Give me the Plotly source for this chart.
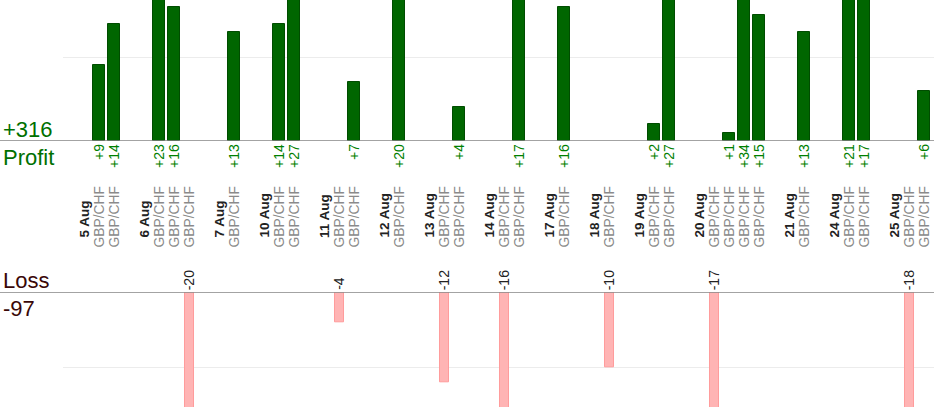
import plotly.graph_objects as go

# ---- data ----
days = ["5 Aug", "6 Aug", "7 Aug", "10 Aug", "11 Aug", "12 Aug", "13 Aug",
        "14 Aug", "17 Aug", "18 Aug", "19 Aug", "20 Aug", "21 Aug", "24 Aug", "25 Aug"]
day_results = [
    [9, 14],
    [23, 16, -20],
    [13],
    [14, 27],
    [-4, 7],
    [20],
    [-12, 4],
    [-16, 17],
    [16],
    [-10],
    [2, 27],
    [-17, 1, 34, 15],
    [13],
    [21, 17],
    [-18, 6],
]
pair_name = "GBP/CHF"
profit_title = "Profit"
loss_title = "Loss"

# ---- slot positions: date slot, trades, empty slot ----
date_x, trade_x, trade_v = [], [], []
slot = 0
for d, res in zip(days, day_results):
    date_x.append(slot)
    slot += 1
    for v in res:
        trade_x.append(slot)
        trade_v.append(v)
        slot += 1
    slot += 1

profit_x = [x for x, v in zip(trade_x, trade_v) if v > 0]
profit_v = [v for v in trade_v if v > 0]
loss_x = [x for x, v in zip(trade_x, trade_v) if v < 0]
loss_v = [v for v in trade_v if v < 0]
total_profit = sum(profit_v)
total_loss = sum(loss_v)

W, H = 934, 420
FONT = "Liberation Sans, Arial, sans-serif"

fig = go.Figure()
fig.add_trace(go.Bar(x=profit_x, y=profit_v, xaxis="x", yaxis="y", width=0.86,
                     marker=dict(color="#006600", line=dict(color="#004c00", width=1)),
                     hoverinfo="skip"))
fig.add_trace(go.Bar(x=loss_x, y=loss_v, xaxis="x2", yaxis="y2", width=0.6,
                     marker=dict(color="#ffb4b4", line=dict(color="#ff9c9c", width=1)),
                     hoverinfo="skip"))

xr = [(63 - 84) / 15, (W - 84) / 15]
top_bottom = 1 - 141 / H
loss_top = 1 - 292.3 / H
loss_bottom = 1 - 407 / H

axis_common = dict(showticklabels=False, zeroline=False, showline=False, fixedrange=True)
fig.update_layout(
    width=W, height=H,
    margin=dict(l=0, r=0, t=0, b=0),
    paper_bgcolor="white", plot_bgcolor="white",
    showlegend=False,
    font=dict(family=FONT),
    xaxis=dict(domain=[63 / W, 1], range=xr, showgrid=False, anchor="y", **axis_common),
    yaxis=dict(domain=[top_bottom, 1], range=[0, 16.8], dtick=10, showgrid=True,
               gridcolor="#ececec", gridwidth=1, anchor="x", **axis_common),
    xaxis2=dict(domain=[63 / W, 1], range=xr, showgrid=False, anchor="y2", **axis_common),
    yaxis2=dict(domain=[loss_bottom, loss_top], range=[-15.25, 0], dtick=10, showgrid=True,
                gridcolor="#ececec", gridwidth=1, anchor="x2", **axis_common),
    bargap=0,
)

# full-width zero lines
fig.add_shape(type="line", xref="paper", x0=0, x1=1, yref="y", y0=0, y1=0,
              line=dict(color="#858585", width=1.5))
fig.add_shape(type="line", xref="paper", x0=0, x1=1, yref="y2", y0=0, y1=0,
              line=dict(color="#858585", width=1.5))

ann = []
# value labels
for x, v in zip(profit_x, profit_v):
    ann.append(dict(x=x, y=0, xref="x", yref="y", text=f"+{v}", showarrow=False,
                    textangle=-90, xanchor="center", yanchor="top", yshift=-1,
                    font=dict(size=14, color="#008000", family=FONT)))
for x, v in zip(loss_x, loss_v):
    ann.append(dict(x=x, y=0, xref="x2", yref="y2", text=f"{v}", showarrow=False,
                    textangle=-90, xanchor="center", yanchor="bottom", yshift=0,
                    font=dict(size=14, color="#222222", family=FONT)))
# date and pair labels
date_y = 1 - 240 / H
pair_y = 1 - 250 / H
for x, d in zip(date_x, days):
    ann.append(dict(x=x, y=date_y, xref="x", yref="paper", text=f"<b>{d}</b>",
                    showarrow=False, textangle=-90, xanchor="center", yanchor="bottom",
                    font=dict(size=13.5, color="#222222", family=FONT)))
for x in trade_x:
    ann.append(dict(x=x, y=pair_y, xref="x", yref="paper", text=pair_name,
                    showarrow=False, textangle=-90, xanchor="center", yanchor="bottom",
                    font=dict(size=13.8, color="#8a8a8a", family=FONT)))
# side titles
ann.append(dict(x=0, y=1 - 141 / H, xref="paper", yref="paper", text=f"+{total_profit}",
                showarrow=False, xanchor="left", yanchor="bottom", xshift=1, yshift=-3,
                font=dict(size=22, color="#007000", family=FONT)))
ann.append(dict(x=0, y=1 - 142 / H, xref="paper", yref="paper", text=profit_title,
                showarrow=False, xanchor="left", yanchor="top", xshift=1, yshift=-1,
                font=dict(size=22, color="#007000", family=FONT)))
ann.append(dict(x=0, y=1 - 292 / H, xref="paper", yref="paper", text=loss_title,
                showarrow=False, xanchor="left", yanchor="bottom", xshift=1, yshift=-3,
                font=dict(size=22, color="#3a0808", family=FONT)))
ann.append(dict(x=0, y=1 - 293 / H, xref="paper", yref="paper", text=f"{total_loss}",
                showarrow=False, xanchor="left", yanchor="top", xshift=1, yshift=-1,
                font=dict(size=22, color="#3a0808", family=FONT)))
fig.update_layout(annotations=ann)

fig.write_html("out.html", config={"displayModeBar": False},
               post_script="document.body.style.margin='0';document.body.style.overflow='hidden';")
